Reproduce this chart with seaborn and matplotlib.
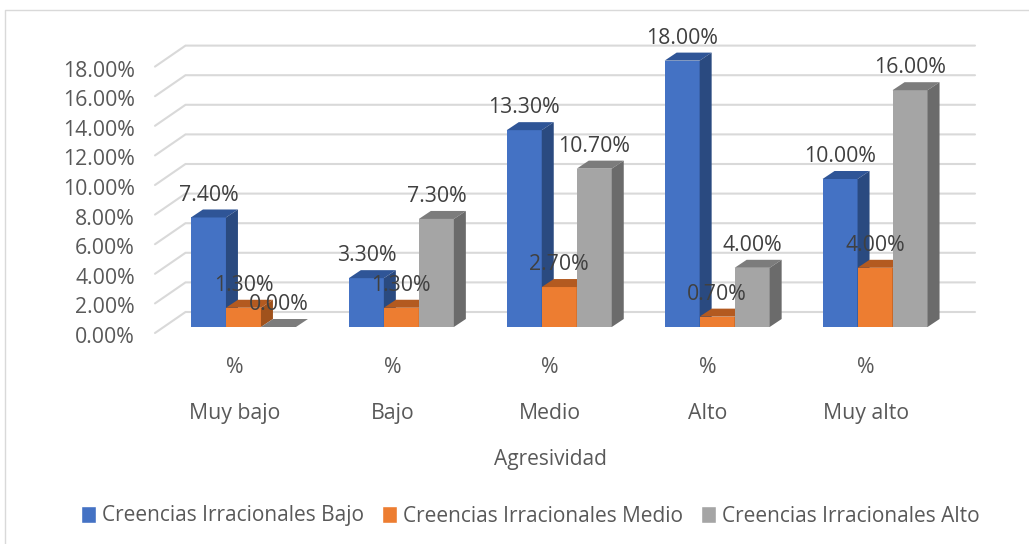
# 3D look clustered bars of Agresividad by Creencias Irracionales
import pandas as pd
import seaborn as sns
import matplotlib.pyplot as plt
from matplotlib.lines import Line2D
from matplotlib.patches import Polygon
from matplotlib.transforms import ScaledTranslation

categories = ['Muy bajo', 'Bajo', 'Medio', 'Alto', 'Muy alto']
series_names = ['Creencias Irracionales Bajo', 'Creencias Irracionales Medio', 'Creencias Irracionales Alto']
bajo = [7.4, 3.3, 13.3, 18.0, 10.0]
medio = [1.3, 1.3, 2.7, 0.7, 4.0]
alto = [0.0, 7.3, 10.7, 4.0, 16.0]
yticks = [0, 2, 4, 6, 8, 10, 12, 14, 16, 18]

front_colors = ['#4472C4', '#ED7D31', '#A5A5A5']
top_colors = ['#2F5597', '#B35A20', '#7C7C7C']
side_colors = ['#2A4A80', '#A0521C', '#6B6B6B']
grid_color = '#D9D9D9'
W, H = 1029, 544
DPI = 100
FS = 15.3

sns.set_style('white')
plt.rcParams['font.family'] = ['Open Sans', 'DejaVu Sans']

df = pd.DataFrame({'Agresividad': categories, series_names[0]: bajo, series_names[1]: medio, series_names[2]: alto})
melted = pd.melt(df, id_vars=['Agresividad'], value_vars=series_names)

fig = plt.figure(figsize=(W / DPI, H / DPI), dpi=DPI)
# axes box in pixels, the plane of the bar fronts
left, right, top, bottom = 164.5, 954, 60.6, 327
ax = fig.add_axes([left / W, 1 - bottom / H, (right - left) / W, (bottom - top) / H])

sns.barplot(data=melted, x='Agresividad', y='value', hue='variable', hue_order=series_names,
            palette=front_colors, width=0.665, gap=0, saturation=1, errorbar=None, ax=ax)
ax.set_xlim(-0.5, 4.5)
ax.set_ylim(0, 18)
sns.despine(ax=ax, left=True, bottom=True)

# pixel sizes to data units
ux = (right - left) / 5
uy = (bottom - top) / 18


def off(px_x, px_y):
    return px_x / ux, px_y / uy


# walls: floor lines from the front edge to the back wall, then along the wall
fx, fy = off(-9.5, -6)
bx, by = off(21, 15)
for v in yticks:
    ax.plot([-0.5 + fx, -0.5 + bx, 4.5 + bx], [v + fy, v + by, v + by], color=grid_color,
            lw=1.5, clip_on=False, zorder=0, solid_joinstyle='miter')

# depth of the bars
dx, dy = off(12, 8)
for i, cont in enumerate(ax.containers):
    for j, bar in enumerate(cont):
        x0, w, h = bar.get_x(), bar.get_width(), bar.get_height()
        z = 2 + j * 3 + i
        bar.set_zorder(z)
        bar.set_linewidth(0)
        ax.add_patch(Polygon([(x0, h), (x0 + w, h), (x0 + w + dx, h + dy), (x0 + dx, h + dy)],
                             facecolor=top_colors[i], lw=0, clip_on=False, zorder=z))
        if h > 0:
            ax.add_patch(Polygon([(x0 + w, 0), (x0 + w + dx, dy), (x0 + w + dx, h + dy), (x0 + w, h)],
                                 facecolor=side_colors[i], lw=0, clip_on=False, zorder=z))
        ax.annotate(f'{h:.2f}%', (x0 + w / 2, h), xytext=(0, 16), textcoords='offset points',
                    ha='center', va='center', fontsize=FS, color='#404040', zorder=50,
                    annotation_clip=False)

ax.set_yticks(yticks)
ax.set_yticklabels([f'{v:.2f}%' for v in yticks], fontsize=FS, color='#595959')
ax.set_xticks(range(5))
ax.set_xticklabels([f'%\n\n{c}' for c in categories], fontsize=FS, color='#595959', linespacing=1.12)
ax.tick_params(axis='y', length=0, pad=21.5)
ax.tick_params(axis='x', length=0, pad=21.7)
for lab in ax.get_yticklabels():
    lab.set_transform(lab.get_transform() + ScaledTranslation(0, -8 / DPI, fig.dpi_scale_trans))
for lab in ax.get_xticklabels():
    lab.set_transform(lab.get_transform() + ScaledTranslation(-9 / DPI, 0, fig.dpi_scale_trans))

ax.set_xlabel('Agresividad', fontsize=15, color='#595959', va='center')
ax.set_ylabel(None)
ax.xaxis.set_label_coords((550 - left) / (right - left), (bottom - 460) / (bottom - top))

sns.move_legend(ax, 'center', bbox_to_anchor=(530.5 / W, 1 - 516 / H), bbox_transform=fig.transFigure,
                ncol=3, frameon=False, title=None, fontsize=15, handlelength=0.72, handleheight=0.9,
                handletextpad=0.3, columnspacing=0.85, labelcolor='#595959')

# chart frame, only left and top are inside the crop
fig.add_artist(Line2D([5 / W, 5 / W, 1], [0, 1 - 10 / H, 1 - 10 / H], color=grid_color, lw=1))

fig.savefig('out.png', dpi=DPI)
